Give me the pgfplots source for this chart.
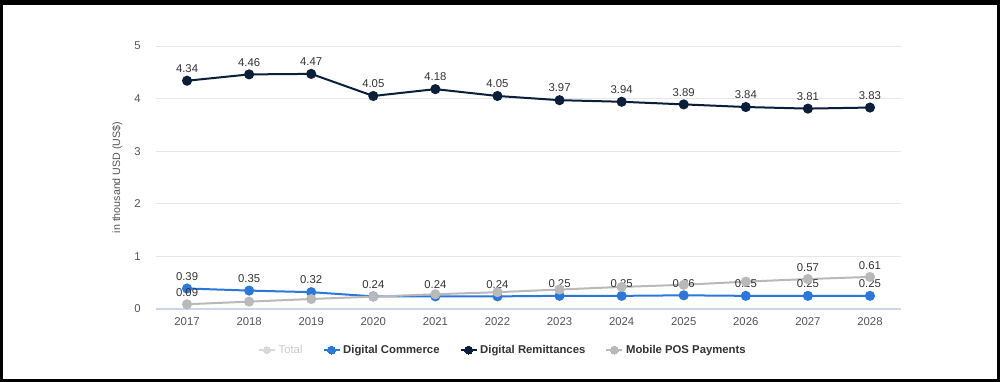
\documentclass[border=0pt]{standalone}
\usepackage{pgfplots}
\pgfplotsset{compat=1.18}
\usepackage{fontspec}
\setmainfont{Liberation Sans}
\definecolor{navy}{HTML}{0B1F3A}
\definecolor{dcblue}{HTML}{2A78DB}
\definecolor{posgray}{HTML}{B9B9B9}
\definecolor{gridc}{HTML}{E6E6E6}
\definecolor{axc}{HTML}{CCD6EB}
\definecolor{txt}{HTML}{333333}
\definecolor{tick}{HTML}{555555}
\begin{document}
\begin{tikzpicture}[x=0.75pt,y=0.75pt]
\fill[black] (0,0) rectangle (1000,382);
\fill[white] (3,3) rectangle (997,377);
\path[use as bounding box] (0,0) rectangle (1000,382);
\begin{axis}[
  at={(117pt,54.75pt)}, anchor=south west,
  scale only axis, width=558.75pt, height=197.25pt,
  xmin=-0.5, xmax=11.5, ymin=0, ymax=5,
  xtick={0,...,11},
  xticklabels={2017,2018,2019,2020,2021,2022,2023,2024,2025,2026,2027,2028},
  ytick={0,1,2,3,4,5},
  axis x line*=bottom, axis y line*=left,
  y axis line style={draw=none},
  x axis line style={draw=axc, line width=0.8pt, -},
  major tick length=0pt,
  ymajorgrids, grid style={draw=gridc, line width=0.6pt},
  tick label style={font=\fontsize{8.5}{10}\selectfont, text=tick},
  yticklabel style={xshift=-8pt},
  xticklabel style={yshift=-3pt},
  ylabel={in thousand USD (US\$)},
  /pgf/number format/assume math mode=true,
  every axis y label/.style={at={(axis description cs:-0.052,0.5)}, rotate=90, anchor=center,
    font=\fontsize{8}{9}\selectfont, text=tick},
  clip=false,
  nodes near coords,
  nodes near coords style={font=\fontsize{8.5}{10}\selectfont, text=txt, yshift=2pt,
    /pgf/number format/.cd, fixed, fixed zerofill, precision=2, assume math mode=true},
  legend style={at={(axis description cs:0.466,-0.156)}, anchor=center, draw=none,
    legend columns=4, font=\fontsize{8.5}{10}\selectfont\bfseries,
    /tikz/every even column/.append style={column sep=13pt}},
  legend image code/.code={
    \draw[#1, mark=none] (0pt,0pt) -- (12pt,0pt);
    \draw[#1, line width=0pt] plot coordinates {(6pt,0pt)};
  },
  legend cell align=left,
]
\addlegendimage{color=gray!30, line width=1.5pt, mark=*, mark size=2.6pt}
\addlegendentry{\textcolor{gray!40}{\mdseries Total}}
\addplot[color=dcblue, line width=1.5pt, mark=*, mark size=3pt] coordinates {
(0,0.39) (1,0.35) (2,0.32) (3,0.24) (4,0.24) (5,0.24) (6,0.25) (7,0.25) (8,0.26) (9,0.25) (10,0.25) (11,0.25)};
\addlegendentry{\textcolor{txt}{Digital Commerce}}
\addplot[color=navy, line width=1.5pt, mark=*, mark size=3pt] coordinates {
(0,4.34) (1,4.46) (2,4.47) (3,4.05) (4,4.18) (5,4.05) (6,3.97) (7,3.94) (8,3.89) (9,3.84) (10,3.81) (11,3.83)};
\addlegendentry{\textcolor{txt}{Digital Remittances}}
\addplot[color=posgray, line width=1.5pt, mark=*, mark size=3pt, nodes near coords=] coordinates {
(0,0.09) (1,0.14) (2,0.19) (3,0.235) (4,0.28) (5,0.32) (6,0.37) (7,0.42) (8,0.46) (9,0.52) (10,0.57) (11,0.61)};
\addlegendentry{\textcolor{txt}{Mobile POS Payments}}
\addplot[draw=none, mark=none, forget plot] coordinates {(0,0.09) (10,0.57) (11,0.61)};
\end{axis}
\end{tikzpicture}
\end{document}
